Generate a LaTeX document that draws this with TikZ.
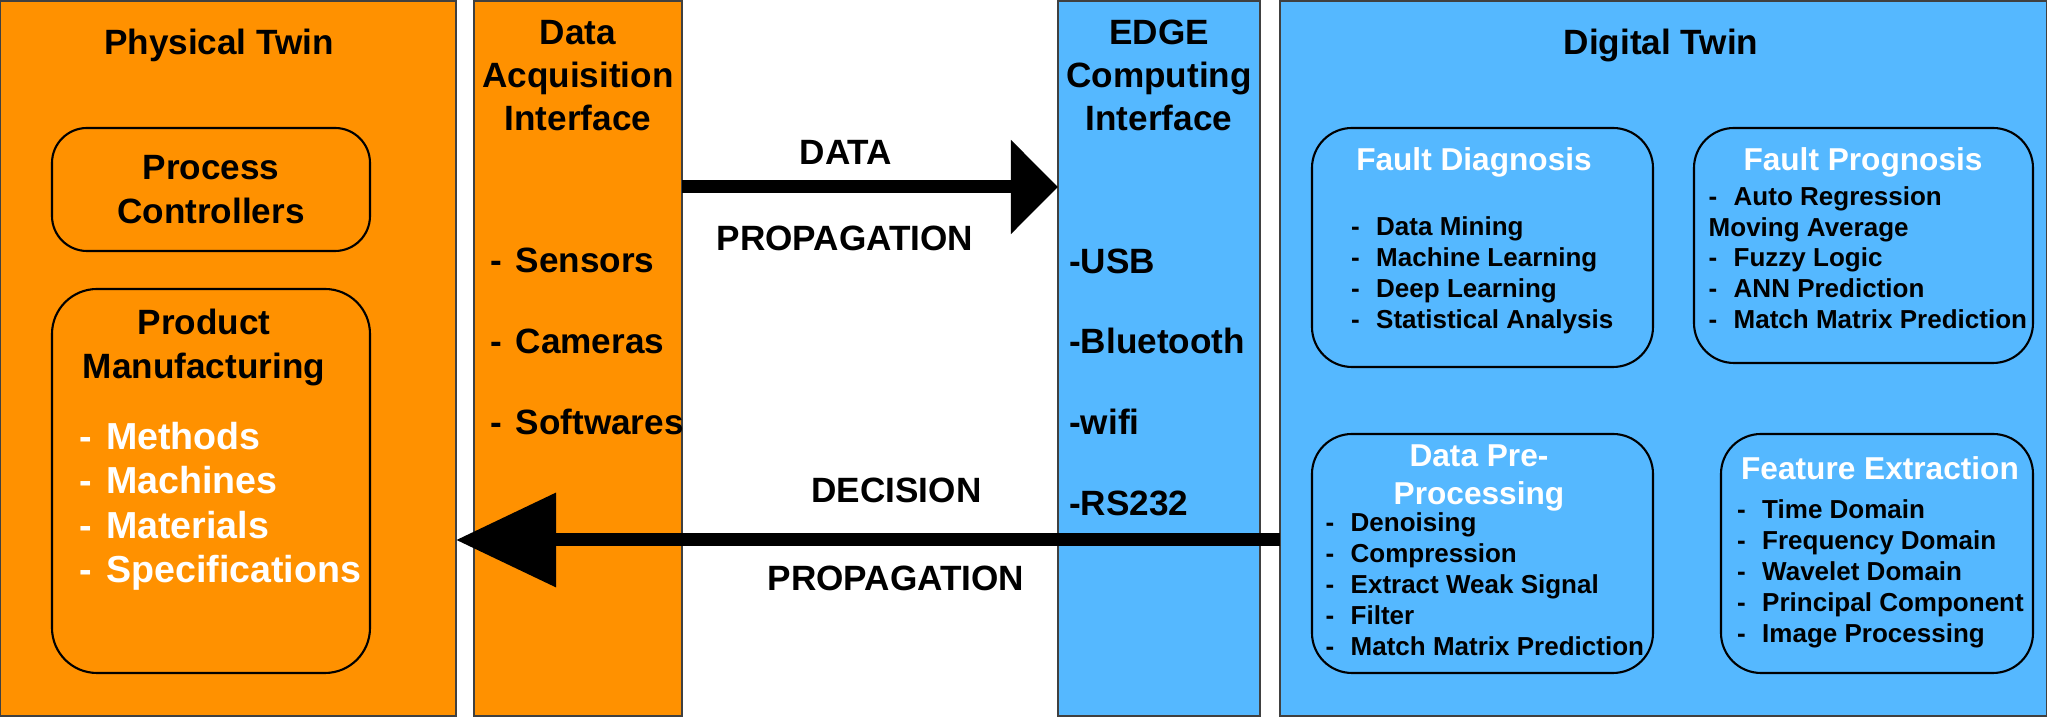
\documentclass[tikz,border=0pt]{standalone}
\usepackage{fontspec}
\setmainfont{Liberation Sans}
\usetikzlibrary{arrows.meta,positioning}
\definecolor{twinorange}{RGB}{255,145,0}
\definecolor{twinblue}{RGB}{85,184,255}
\newcommand{\itm}[2][0.25cm]{\makebox[#1][l]{-}#2}
\tikzset{
  panel/.style={draw=black!75, line width=0.5pt, anchor=north west, inner sep=0pt, outer sep=0pt},
  subbox/.style={draw=black, line width=0.6pt, rounded corners=0.4cm, anchor=north west, inner sep=0pt, outer sep=0pt},
  bigtext/.style={inner sep=0pt, anchor=base, align=center, font=\bfseries\fontsize{10}{12.4}\selectfont},
  boxtitle/.style={inner sep=0pt, anchor=base, align=center, text=white, font=\bfseries\fontsize{9}{10.8}\selectfont},
  smalllist/.style={inner sep=0pt, anchor=base west, align=left, font=\bfseries\fontsize{7.4}{8.8}\selectfont},
  flowarrow/.style={line width=3.7pt, draw=black}
}

\begin{document}
\begin{tikzpicture}
  \useasboundingbox (0,0) rectangle (20.48,-7.17);

  % the four panels
  \node[panel, fill=twinorange, minimum width=4.555cm, minimum height=7.15cm] (phys) at (0.005,-0.01) {};
  \node[panel, fill=twinorange, minimum width=2.08cm, minimum height=7.15cm] (acq) at (4.74,-0.01) {};
  \node[panel, fill=twinblue, minimum width=2.02cm, minimum height=7.15cm] (edge) at (10.58,-0.01) {};
  \node[panel, fill=twinblue, minimum width=7.665cm, minimum height=7.15cm] (digi) at (12.80,-0.01) {};

  % rounded inner boxes
  \node[subbox, rounded corners=0.35cm, minimum width=3.18cm, minimum height=1.23cm] (proc) at (0.52,-1.28) {};
  \node[subbox, rounded corners=0.45cm, minimum width=3.18cm, minimum height=3.84cm] (prod) at (0.52,-2.89) {};
  \node[subbox, minimum width=3.41cm, minimum height=2.39cm] (diag) at (13.12,-1.28) {};
  \node[subbox, minimum width=3.39cm, minimum height=2.35cm] (prog) at (16.94,-1.28) {};
  \node[subbox, minimum width=3.41cm, minimum height=2.39cm] (pre) at (13.12,-4.34) {};
  \node[subbox, minimum width=3.12cm, minimum height=2.39cm] (feat) at (17.21,-4.34) {};

  % arrows between the twins
  \coordinate (datarow) at (0,-1.87);
  \coordinate (decisionrow) at (0,-5.40);
  \draw[flowarrow, -{Triangle[length=13.4pt,width=26pt]}] (acq.east |- datarow) -- (edge.west |- datarow);
  \draw[flowarrow, -{Triangle[length=28.5pt,width=26pt]}] (digi.west |- decisionrow) -- (phys.east |- decisionrow);
  \node[bigtext] (datalabel) at (8.46,-1.646) {DATA};
  \node[bigtext] (datalabel2) at (8.45,-2.506) {PROPAGATION};
  \node[bigtext] (decisionlabel) at (8.965,-5.026) {DECISION};
  \node[bigtext] (decisionlabel2) at (8.96,-5.906) {PROPAGATION};

  % physical side
  \node[bigtext] (phystitle) at (2.19,-0.546) {Physical Twin};
  \node[bigtext, font=\bfseries\fontsize{10}{12.5}\selectfont] (proctext) at (2.11,-2.236) {Process\\Controllers};
  \node[bigtext, font=\bfseries\fontsize{10}{12.5}\selectfont] (prodtext) at (2.04,-3.786) {Product\\Manufacturing};
  \node[inner sep=0pt, anchor=base west, align=left, text=white, font=\bfseries\fontsize{10.7}{12.6}\selectfont] (prodlist) at (0.785,-5.825)
    {\itm[0.27cm]{Methods}\\\itm[0.27cm]{Machines}\\\itm[0.27cm]{Materials}\\\itm[0.27cm]{Specifications}};
  \node[bigtext, font=\bfseries\fontsize{10}{12.3}\selectfont] (acqtitle) at (5.78,-1.306) {Data\\Acquisition\\Interface};
  \node[inner sep=0pt, anchor=base west, align=left, font=\bfseries\fontsize{10}{23}\selectfont] (acqlist) at (4.90,-4.346)
    {\itm{Sensors}\\\itm{Cameras}\\\itm{Softwares}};

  % digital side
  \node[bigtext, font=\bfseries\fontsize{10}{12.3}\selectfont] (edgetitle) at (11.59,-1.306) {EDGE\\Computing\\Interface};
  \node[inner sep=0pt, anchor=base west, align=left, font=\bfseries\fontsize{10}{23}\selectfont] (edgelist) at (10.685,-5.156)
    {-USB\\-Bluetooth\\-wifi\\-RS232};
  \node[bigtext] (digititle) at (16.61,-0.546) {Digital Twin};

  \node[boxtitle] (diagtitle) at (14.74,-1.703) {Fault Diagnosis};
  \node[smalllist] (diaglist) at (13.505,-3.283)
    {\itm{Data Mining}\\\itm{Machine Learning}\\\itm{Deep Learning}\\\itm{Statistical Analysis}};
  \node[boxtitle] (progtitle) at (18.63,-1.703) {Fault Prognosis};
  \node[smalllist, font=\bfseries\fontsize{7.4}{8.75}\selectfont] (proglist) at (17.08,-3.283)
    {\itm{Auto Regression}\\Moving Average\\\itm{Fuzzy Logic}\\\itm{ANN Prediction}\\\itm{Match Matrix Prediction}};
  \node[boxtitle] (pretitle) at (14.79,-5.043) {Data Pre-\\Processing};
  \node[smalllist] (prelist) at (13.25,-6.553)
    {\itm{Denoising}\\\itm{Compression}\\\itm{Extract Weak Signal}\\\itm{Filter}\\\itm{Match Matrix Prediction}};
  \node[boxtitle] (feattitle) at (18.80,-4.793) {Feature Extraction};
  \node[smalllist] (featlist) at (17.365,-6.423)
    {\itm{Time Domain}\\\itm{Frequency Domain}\\\itm{Wavelet Domain}\\\itm{Principal Component}\\\itm{Image Processing}};
\end{tikzpicture}
\end{document}
